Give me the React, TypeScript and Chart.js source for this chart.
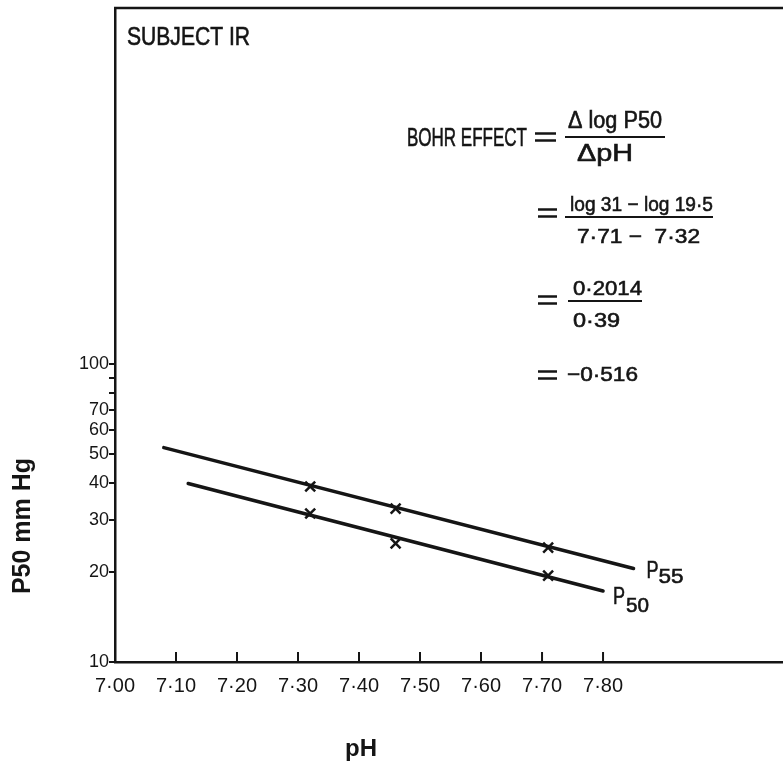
import React, { useEffect, useRef } from 'react';
import { Chart, registerables } from 'chart.js';

Chart.register(...registerables);

// ---- data ----
const phTicks = [7.0, 7.1, 7.2, 7.3, 7.4, 7.5, 7.6, 7.7, 7.8];
const phTickLabels = ['7·00', '7·10', '7·20', '7·30', '7·40', '7·50', '7·60', '7·70', '7·80'];
const pTicks = [10, 20, 30, 40, 50, 60, 70, 80, 90, 100];
const pTickLabels = ['10', '20', '30', '40', '50', '60', '70', '', '', '100'];

const p55LinePH = [7.08, 7.85];
const p55LineP = [52.4, 20.6];
const p50LinePH = [7.12, 7.8];
const p50LineP = [39.7, 17.3];

const measuredPH = [7.32, 7.46, 7.71];
const measuredP55 = [38.8, 32.7, 24.2];
const measuredP50 = [31.5, 25.0, 19.5];

const subjectTitle = 'SUBJECT IR';
const xTitle = 'pH';
const yTitle = 'P50 mm Hg';

const INK = '#151515';
const FONT = "'Liberation Sans', Arial, sans-serif";

function drawFit(
  ctx: CanvasRenderingContext2D,
  text: string,
  left: number,
  baseline: number,
  width: number,
  size: number,
  weight = 'normal'
) {
  ctx.save();
  ctx.font = `${weight} ${size}px ${FONT}`;
  const w = ctx.measureText(text).width || 1;
  ctx.translate(left, baseline);
  ctx.scale(width / w, 1);
  ctx.textAlign = 'left';
  ctx.textBaseline = 'alphabetic';
  ctx.fillStyle = INK;
  ctx.strokeStyle = INK;
  ctx.lineWidth = 0.6;
  ctx.fillText(text, 0, 0);
  ctx.strokeText(text, 0, 0);
  ctx.restore();
}

function hline(ctx: CanvasRenderingContext2D, x1: number, x2: number, y: number, w = 2) {
  ctx.save();
  ctx.strokeStyle = INK;
  ctx.lineWidth = w;
  ctx.beginPath();
  ctx.moveTo(x1, y);
  ctx.lineTo(x2, y);
  ctx.stroke();
  ctx.restore();
}

function equals(ctx: CanvasRenderingContext2D, x1: number, x2: number, yc: number) {
  hline(ctx, x1, x2, yc - 3.5, 2.5);
  hline(ctx, x1, x2, yc + 3.5, 2.5);
}

const annotationPlugin = {
  id: 'annotations',
  afterDraw(chart: any) {
    const { ctx, chartArea } = chart;
    const { left, top, right, bottom } = chartArea;
    const xs = chart.scales.x;
    const ys = chart.scales.y;

    // frame top line
    ctx.save();
    ctx.strokeStyle = INK;
    ctx.lineWidth = 2.5;
    ctx.beginPath();
    ctx.moveTo(left - 1, top);
    ctx.lineTo(right, top);
    ctx.stroke();
    // x ticks pointing up into the plot
    ctx.lineWidth = 2;
    phTicks.forEach((v) => {
      const px = xs.getPixelForValue(v);
      ctx.beginPath();
      ctx.moveTo(px, bottom);
      ctx.lineTo(px, bottom - 10);
      ctx.stroke();
    });
    ctx.restore();

    // subject title
    drawFit(ctx, subjectTitle, 127, 45, 123, 25);

    // series labels at line ends
    const e55x = xs.getPixelForValue(p55LinePH[1]);
    const e55y = ys.getPixelForValue(p55LineP[1]);
    drawFit(ctx, 'P', e55x + 13, e55y + 10, 12, 24);
    drawFit(ctx, '55', e55x + 25, e55y + 15, 25, 21);
    const e50x = xs.getPixelForValue(p50LinePH[1]);
    const e50y = ys.getPixelForValue(p50LineP[1]);
    drawFit(ctx, 'P', e50x + 10, e50y + 13, 12, 24);
    drawFit(ctx, '50', e50x + 23, e50y + 21, 23, 21);

    // Bohr effect formula
    drawFit(ctx, 'BOHR EFFECT', 407, 146, 120, 25);
    equals(ctx, 535, 556, 137);
    drawFit(ctx, 'Δ log P50', 568, 128, 94, 23);
    hline(ctx, 565, 665, 137, 2.2);
    drawFit(ctx, 'ΔpH', 577, 161, 56, 23);

    equals(ctx, 538, 557, 213);
    drawFit(ctx, 'log 31 − log 19·5', 570, 211, 143, 21);
    hline(ctx, 565, 713, 217, 2.2);
    drawFit(ctx, '7·71 −  7·32', 577, 243, 123, 21);

    equals(ctx, 538, 557, 300);
    drawFit(ctx, '0·2014', 573, 295, 69, 21);
    hline(ctx, 568, 642, 301, 2.2);
    drawFit(ctx, '0·39', 573, 327, 47, 21);

    equals(ctx, 538, 557, 375);
    drawFit(ctx, '−0·516', 567, 381, 71, 21);

    // axis titles
    ctx.save();
    ctx.fillStyle = INK;
    ctx.font = `bold 24px ${FONT}`;
    ctx.textAlign = 'center';
    ctx.textBaseline = 'middle';
    ctx.fillText(xTitle, 361, 749);
    ctx.translate(23, 526);
    ctx.rotate(-Math.PI / 2);
    ctx.font = `bold 25px ${FONT}`;
    ctx.fillText(yTitle, 0, 0);
    ctx.restore();
  },
};

export default function App() {
  const ref = useRef<HTMLCanvasElement | null>(null);

  useEffect(() => {
    if (!ref.current) return;
    const chart = new Chart(ref.current, {
      type: 'scatter',
      data: {
        datasets: [
          {
            label: 'P55 line',
            data: p55LinePH.map((x, i) => ({ x, y: p55LineP[i] })),
            showLine: true,
            borderColor: INK,
            borderWidth: 3.5,
            pointRadius: 0,
            borderCapStyle: 'round',
          },
          {
            label: 'P50 line',
            data: p50LinePH.map((x, i) => ({ x, y: p50LineP[i] })),
            showLine: true,
            borderColor: INK,
            borderWidth: 3.5,
            pointRadius: 0,
            borderCapStyle: 'round',
          },
          {
            label: 'P55',
            data: measuredPH.map((x, i) => ({ x, y: measuredP55[i] })),
            showLine: false,
            pointStyle: 'crossRot',
            pointRadius: 7,
            borderWidth: 2.5,
            borderColor: INK,
            backgroundColor: INK,
          },
          {
            label: 'P50',
            data: measuredPH.map((x, i) => ({ x, y: measuredP50[i] })),
            showLine: false,
            pointStyle: 'crossRot',
            pointRadius: 7,
            borderWidth: 2.5,
            borderColor: INK,
            backgroundColor: INK,
          },
        ],
      },
      options: {
        responsive: false,
        animation: false,
        devicePixelRatio: 1,
        layout: { autoPadding: false, padding: { top: 8, left: 0, right: 0, bottom: 0 } },
        plugins: { legend: { display: false }, tooltip: { enabled: false } },
        scales: {
          x: {
            type: 'linear',
            min: 7.0,
            max: 8.095,
            afterBuildTicks: (s: any) => {
              s.ticks = phTicks.map((v) => ({ value: v }));
            },
            afterFit: (s: any) => {
              s.height = 105;
              s.paddingLeft = 0;
              s.paddingRight = 0;
            },
            grid: { display: false, drawTicks: false },
            border: { display: true, color: INK, width: 2.5 },
            ticks: {
              autoSkip: false,
              maxRotation: 0,
              padding: 12,
              color: INK,
              font: { family: FONT, size: 20 },
              callback: (_v: any, i: number) => phTickLabels[i],
            },
          },
          y: {
            type: 'logarithmic',
            min: 10,
            max: 1565,
            afterBuildTicks: (s: any) => {
              s.ticks = pTicks.map((v) => ({ value: v }));
            },
            afterFit: (s: any) => {
              s.width = 115;
              s.paddingTop = 0;
              s.paddingBottom = 0;
            },
            grid: {
              display: true,
              drawOnChartArea: false,
              drawTicks: true,
              tickLength: 6,
              color: INK,
              lineWidth: 2,
            },
            border: { display: true, color: INK, width: 2.5 },
            ticks: {
              autoSkip: false,
              padding: 0,
              color: INK,
              font: { family: FONT, size: 18 },
              callback: (_v: any, i: number) => pTickLabels[i],
            },
          },
        },
      },
      plugins: [annotationPlugin],
    } as any);
    return () => chart.destroy();
  }, []);

  return (
    <div style={{ position: 'absolute', left: 0, top: 0, width: 783, height: 767, overflow: 'hidden', background: '#fff' }}>
      <canvas ref={ref} width={783} height={767} style={{ display: 'block' }} />
    </div>
  );
}
